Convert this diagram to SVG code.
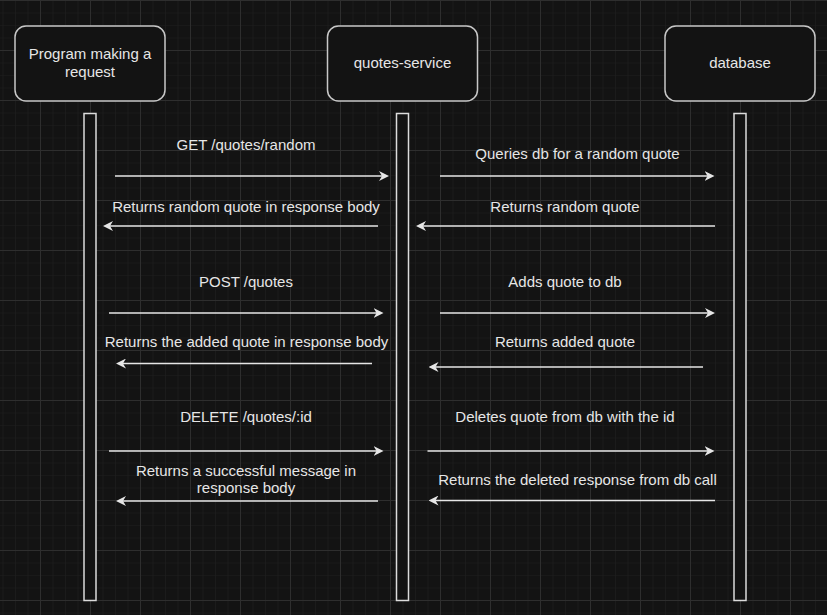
<svg xmlns="http://www.w3.org/2000/svg" width="827" height="615" viewBox="0 0 827 615">
  <defs>
    <pattern id="minor" patternUnits="userSpaceOnUse" x="2.5" y="0" width="12.5" height="12.5">
      <path d="M0,0 V12.5 M0,0 H12.5" fill="none" stroke="#1f1f1f" stroke-width="1.2"/>
    </pattern>
    <pattern id="major" patternUnits="userSpaceOnUse" x="40" y="0" width="50" height="50">
      <path d="M0.5,0 V50 M0,0.5 H50" fill="none" stroke="#2e2e2e" stroke-width="1"/>
    </pattern>
    <marker id="arr" viewBox="0 0 10 10" refX="4" refY="5" markerWidth="10" markerHeight="10" markerUnits="userSpaceOnUse" orient="auto">
      <path d="M0,0 L10,5 L0,10 L3,5 Z" fill="#e6e6e6"/>
    </marker>
    <style>
      .node rect.box { fill: #131313; stroke: #c8c8c8; stroke-width: 1.5; }
      .life { fill: #131313; stroke: #dcdcdc; stroke-width: 1.5; }
      text { font-family: "Liberation Sans", Arial, sans-serif; font-size: 15px; fill: #e6e6e6; text-anchor: middle; }
      .conn line { stroke: #e6e6e6; stroke-width: 1.5; marker-end: url(#arr); }
    </style>
  </defs>
  <rect width="827" height="615" fill="#131313"/>
  <rect width="827" height="615" fill="url(#minor)"/>
  <rect width="827" height="615" fill="url(#major)"/>

  <g id="program">
    <g class="node">
      <rect class="box" x="15" y="26" width="150" height="75" rx="11"/>
      <text x="90" y="58.5">Program making a</text>
      <text x="90" y="76.5">request</text>
    </g>
    <rect class="life" x="84" y="113.5" width="12" height="487"/>
  </g>

  <g id="quotes-service">
    <g class="node">
      <rect class="box" x="327.5" y="26" width="150" height="75" rx="11"/>
      <text x="402.5" y="68">quotes-service</text>
    </g>
    <rect class="life" x="396.5" y="113.5" width="12" height="487"/>
  </g>

  <g id="database">
    <g class="node">
      <rect class="box" x="665" y="26" width="150" height="75" rx="11"/>
      <text x="740" y="68">database</text>
    </g>
    <rect class="life" x="734" y="113.5" width="12" height="487"/>
  </g>

  <g id="connectors" class="conn">
    <line x1="115" y1="176" x2="383" y2="176"/>
    <line x1="378" y1="226" x2="109" y2="226"/>
    <line x1="440" y1="176" x2="708.5" y2="176"/>
    <line x1="715" y1="226" x2="422" y2="226"/>
    <line x1="109" y1="313" x2="377.5" y2="313"/>
    <line x1="372" y1="363.5" x2="122" y2="363.5"/>
    <line x1="440" y1="313" x2="709" y2="313"/>
    <line x1="703" y1="367" x2="434.5" y2="367"/>
    <line x1="109" y1="451" x2="377.5" y2="451"/>
    <line x1="378" y1="501" x2="122" y2="501"/>
    <line x1="427.5" y1="451" x2="708.5" y2="451"/>
    <line x1="715" y1="500.5" x2="434.5" y2="500.5"/>
  </g>

  <g id="labels">
    <text x="246" y="149.5">GET /quotes/random</text>
    <text x="246" y="211.5">Returns random quote in response body</text>
    <text x="577.5" y="158.5">Queries db for a random quote</text>
    <text x="565" y="211.5">Returns random quote</text>
    <text x="246" y="286.5">POST /quotes</text>
    <text x="246.5" y="347">Returns the added quote in response body</text>
    <text x="565" y="286.5">Adds quote to db</text>
    <text x="565" y="347">Returns added quote</text>
    <text x="246" y="421.5">DELETE /quotes/:id</text>
    <text x="246" y="476">Returns a successful message in</text>
    <text x="246" y="493">response body</text>
    <text x="565" y="421.5">Deletes quote from db with the id</text>
    <text x="577.5" y="485">Returns the deleted response from db call</text>
  </g>
</svg>
